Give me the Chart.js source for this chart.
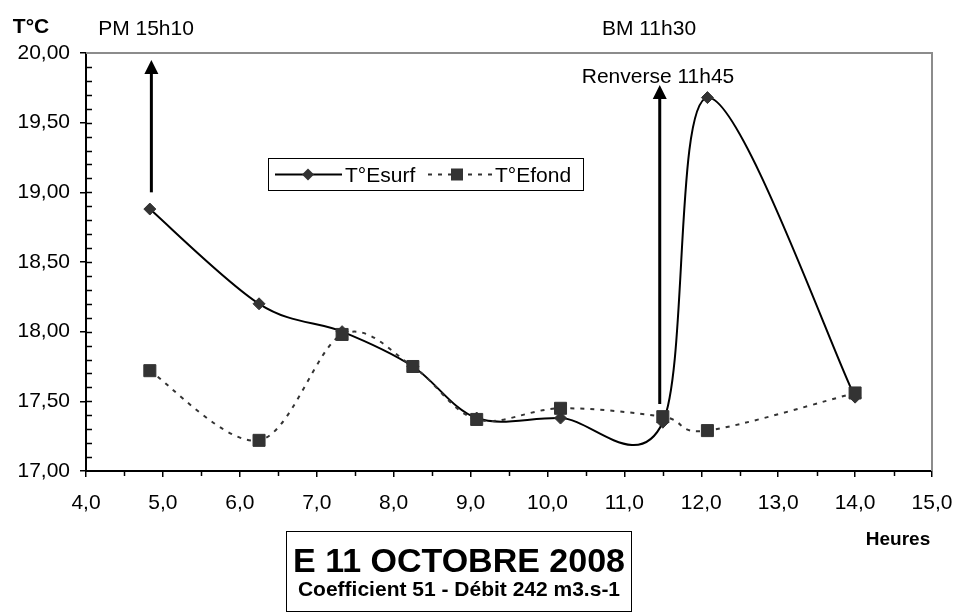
<!DOCTYPE html>
<html>
<head>
<meta charset="utf-8">
<script src="https://cdn.jsdelivr.net/npm/chart.js@4/dist/chart.umd.min.js"></script>
<style>
  html, body { margin: 0; padding: 0; background: #fff; }
  #wrap { width: 955px; height: 612px; }
</style>
</head>
<body>
<div id="wrap"><canvas id="tempChart" width="955" height="612"></canvas></div>
<script>
// sampling hours and temperatures
const heures = [4.83, 6.25, 7.33, 8.25, 9.08, 10.17, 11.5, 12.08, 14.0];
const tSurf = [18.88, 18.20, 18.00, 17.75, 17.38, 17.38, 17.35, 19.68, 17.53];
const tFond = [17.72, 17.22, 17.98, 17.75, 17.37, 17.45, 17.39, 17.29, 17.56];

// tide markers: x position, arrow start and end (°C)
const arrowX = [4.85, 11.46];
const arrowFrom = [19.00, 17.48];
const arrowTo = [19.95, 19.77];

const FONT = '"Liberation Sans", Arial, sans-serif';
const DARK = '#333333';

const fmt = (v, d) => v.toFixed(d).replace('.', ',');
const pts = ys => heures.map((x, i) => ({ x, y: ys[i] }));

function arrow(ctx, x, y1, y2) {
    ctx.save();
    ctx.strokeStyle = '#000';
    ctx.fillStyle = '#000';
    ctx.lineWidth = 3;
    ctx.beginPath();
    ctx.moveTo(x, y1);
    ctx.lineTo(x, y2 + 12);
    ctx.stroke();
    ctx.beginPath();
    ctx.moveTo(x, y2);
    ctx.lineTo(x - 7, y2 + 14);
    ctx.lineTo(x + 7, y2 + 14);
    ctx.closePath();
    ctx.fill();
    ctx.restore();
}

function text(ctx, s, x, y, size, bold, align) {
    ctx.font = (bold ? 'bold ' : '') + size + 'px ' + FONT;
    ctx.textAlign = align || 'center';
    ctx.textBaseline = 'alphabetic';
    ctx.fillStyle = '#000';
    ctx.fillText(s, x, y);
}

// spreadsheet-style smoothing: tangent = (next - prev) / 6
const smooth = {
    id: 'smooth',
    beforeDatasetsDraw(chart) {
        chart.getSortedVisibleDatasetMetas().forEach(meta => {
            const line = meta.dataset;
            const p = meta.data;
            line.updateControlPoints(chart.chartArea, 'x');
            p.forEach((pt, i) => {
                const prev = p[Math.max(i - 1, 0)];
                const next = p[Math.min(i + 1, p.length - 1)];
                const dx = (next.x - prev.x) / 6;
                const dy = (next.y - prev.y) / 6;
                pt.cp1x = pt.x - dx;
                pt.cp1y = pt.y - dy;
                pt.cp2x = pt.x + dx;
                pt.cp2y = pt.y + dy;
            });
            line._path = undefined;
        });
    }
};

const decor = {
    id: 'decor',
    beforeDatasetsDraw(chart) {
        const { ctx, chartArea: a, scales: { x, y } } = chart;
        ctx.save();
        // grey frame on top and right
        ctx.strokeStyle = '#8c8c8c';
        ctx.lineWidth = 2;
        ctx.beginPath();
        ctx.moveTo(a.left, a.top);
        ctx.lineTo(a.right, a.top);
        ctx.lineTo(a.right, a.bottom);
        ctx.stroke();
        // minor ticks
        ctx.strokeStyle = '#000';
        ctx.lineWidth = 1.5;
        ctx.beginPath();
        for (let v = 17.1; v < 20; v += 0.1) {
            const py = Math.round(y.getPixelForValue(v)) + 0.5;
            ctx.moveTo(a.left, py);
            ctx.lineTo(a.left + 6, py);
        }
        for (let v = 4.5; v < 15; v += 1) {
            const px = Math.round(x.getPixelForValue(v)) + 0.5;
            ctx.moveTo(px, a.bottom);
            ctx.lineTo(px, a.bottom + 5);
        }
        ctx.stroke();
        ctx.restore();
    },
    afterDraw(chart) {
        const { ctx, scales: { x, y } } = chart;
        ctx.save();
        arrowX.forEach((v, i) => {
            arrow(ctx, x.getPixelForValue(v), y.getPixelForValue(arrowFrom[i]), y.getPixelForValue(arrowTo[i]));
        });

        text(ctx, 'T°C', 31, 33, 21, true);
        text(ctx, 'PM 15h10', 146, 35, 21);
        text(ctx, 'BM 11h30', 649, 35, 21);
        text(ctx, 'Renverse 11h45', 658, 83, 21);
        text(ctx, 'Heures', 898, 545, 19, true);

        // legend
        ctx.fillStyle = '#fff';
        ctx.fillRect(268, 158, 315, 32);
        ctx.strokeStyle = '#000';
        ctx.lineWidth = 1;
        ctx.strokeRect(268.5, 158.5, 315, 32);
        const ly = 174.5;
        ctx.lineWidth = 2;
        ctx.strokeStyle = '#000';
        ctx.beginPath();
        ctx.moveTo(275, ly);
        ctx.lineTo(342, ly);
        ctx.stroke();
        ctx.fillStyle = DARK;
        ctx.beginPath();
        ctx.moveTo(308, ly - 6);
        ctx.lineTo(314, ly);
        ctx.lineTo(308, ly + 6);
        ctx.lineTo(302, ly);
        ctx.closePath();
        ctx.fill();
        text(ctx, 'T°Esurf', 345, 182, 21, false, 'left');
        ctx.strokeStyle = DARK;
        ctx.setLineDash([4, 6]);
        ctx.beginPath();
        ctx.moveTo(428, ly);
        ctx.lineTo(494, ly);
        ctx.stroke();
        ctx.setLineDash([]);
        ctx.fillStyle = DARK;
        ctx.fillRect(451, ly - 6, 12, 12);
        text(ctx, 'T°Efond', 495, 182, 21, false, 'left');

        // title box
        ctx.fillStyle = '#fff';
        ctx.fillRect(286, 531, 345, 80);
        ctx.strokeStyle = '#000';
        ctx.lineWidth = 1;
        ctx.strokeRect(286.5, 531.5, 345, 80);
        text(ctx, 'E 11 OCTOBRE 2008', 459, 572, 34, true);
        text(ctx, 'Coefficient 51 - Débit 242 m3.s-1', 459, 596, 21, true);
        ctx.restore();
    }
};

new Chart(document.getElementById('tempChart'), {
    type: 'line',
    data: {
        datasets: [
            {
                label: 'T°Esurf',
                data: pts(tSurf),
                borderColor: '#000',
                borderWidth: 2,
                tension: 0.4,
                pointStyle: 'rectRot',
                pointRadius: 6,
                pointBackgroundColor: DARK,
                pointBorderColor: DARK,
                pointBorderWidth: 1,
                order: 1
            },
            {
                label: 'T°Efond',
                data: pts(tFond),
                borderColor: DARK,
                borderWidth: 2,
                borderDash: [4, 6],
                tension: 0.4,
                pointStyle: 'rect',
                pointRadius: 8.5,
                pointBackgroundColor: DARK,
                pointBorderColor: DARK,
                pointBorderWidth: 1,
                order: 0
            }
        ]
    },
    options: {
        responsive: false,
        animation: false,
        layout: { padding: { left: 0, top: 53, right: 23, bottom: 0 } },
        plugins: { legend: { display: false }, tooltip: { enabled: false } },
        scales: {
            x: {
                type: 'linear',
                min: 4,
                max: 15,
                afterFit: s => {
                    s.height = 141;
                    s.paddingLeft = 0;
                    s.paddingRight = 0;
                },
                border: { color: '#000', width: 2 },
                grid: { drawOnChartArea: false, color: '#000', tickLength: 6, lineWidth: 1.5 },
                ticks: {
                    stepSize: 1,
                    color: '#000',
                    padding: 14,
                    maxRotation: 0,
                    font: { family: FONT, size: 21 },
                    callback: v => fmt(v, 1)
                }
            },
            y: {
                min: 17,
                max: 20,
                afterFit: s => {
                    s.width = 86;
                    s.paddingTop = 0;
                    s.paddingBottom = 0;
                },
                border: { color: '#000', width: 2 },
                grid: { drawOnChartArea: false, color: '#000', tickLength: 6, lineWidth: 1.5 },
                ticks: {
                    stepSize: 0.5,
                    color: '#000',
                    padding: 10,
                    font: { family: FONT, size: 21 },
                    callback: v => fmt(v, 2)
                }
            }
        }
    },
    plugins: [smooth, decor]
});
</script>
</body>
</html>
